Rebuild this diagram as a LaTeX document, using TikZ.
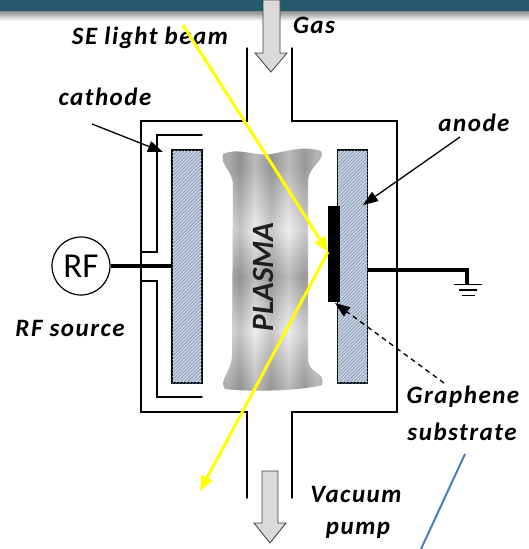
\documentclass[tikz,border=0pt]{standalone}
\usepackage{fontspec}
\setmainfont{Carlito}
\newfontfamily\labelfont[LetterSpace=6]{Carlito}
\usetikzlibrary{arrows.meta,patterns.meta}

\definecolor{barteal}{HTML}{245A6A}
\definecolor{hatchbase}{HTML}{CAD3E0}
\definecolor{hatchline}{HTML}{7890B2}
\definecolor{flowgray}{HTML}{D9D9D9}
\definecolor{beamyellow}{HTML}{FFFF00}
\definecolor{linkblue}{HTML}{4A7EBB}

% banded gray body of the plasma (colour varies left to right)
\pgfdeclarehorizontalshading{plasmabands}{100bp}{%
  color(0bp)=(black!18); color(25bp)=(black!18); color(30bp)=(black!22);
  color(35bp)=(black!38); color(42bp)=(black!11); color(49.5bp)=(black!36);
  color(57.5bp)=(black!11); color(65bp)=(black!34); color(71bp)=(black!14);
  color(75bp)=(black!26); color(100bp)=(black!26)}
% lighter and darker zones along the height
\pgfdeclareverticalshading{plasmaglow}{100bp}{%
  color(0bp)=(black!50); color(26bp)=(black!50); color(37.5bp)=(white);
  color(48.5bp)=(black!50); color(58bp)=(white); color(70.5bp)=(black!50);
  color(100bp)=(black!50)}

\begin{document}
\begin{tikzpicture}[x=1pt,y=-1pt,
  wall/.style={line width=1.4pt,line cap=round},
  feed/.style={line width=3.2pt},
  label/.style={font=\labelfont\fontsize{25}{29}\selectfont\bfseries\itshape,inner sep=0pt},
  plate/.style={draw,line width=1.3pt,fill=hatchbase,
    postaction={pattern={Lines[angle=45,distance=2.4pt,line width=0.55pt]},pattern color=hatchline}},
  pointer/.style={line width=1.3pt,-{Triangle[length=15pt,width=11pt]}},
  beam/.style={beamyellow,line width=3pt,-{Triangle[length=15pt,width=12pt]}},
  flow/.style={fill=flowgray,draw=black!75,line width=0.8pt,line join=miter},
]
\useasboundingbox (0,0) rectangle (529,549);

% title band with its soft shadow
\fill[barteal] (0,0) rectangle (529,11);
\shade[top color=black!45,bottom color=white] (0,11) rectangle (529,21);

% gas inlet arrow
\draw[flow] (263,0) -- (280,0) -- (280,53) -- (287,53) -- (271,72) -- (255,53) -- (263,53) -- cycle;
% vacuum outlet arrow
\draw[flow] (262,471) -- (278,471) -- (278,523) -- (286,523) -- (270,543) -- (254,523) -- (262,523) -- cycle;

% chamber walls
\draw[wall] (247,48) -- (247,121) -- (141,121) -- (141,412) -- (247,412) -- (247,498);
\draw[wall] (292,498) -- (292,412) -- (397,412) -- (397,121) -- (292,121) -- (292,48);

% cathode feed shielding
\draw[wall] (202,135) -- (157,135) -- (157,252) -- (141,252);
\draw[wall] (141,281) -- (157,281) -- (157,397) -- (202,397);

% plasma
\path[shading=plasmabands]
  (223,154) .. controls (240,147) and (255,157) .. (272,154)
  .. controls (290,150) and (306,146) .. (321,151)
  .. controls (326,160) and (309,166) .. (308,180) -- (308,360)
  .. controls (309,374) and (326,372) .. (322,385)
  .. controls (300,391) and (250,392) .. (225,389)
  .. controls (218,380) and (232,372) .. (232,355) -- (233,186)
  .. controls (233,170) and (220,166) .. (223,154) -- cycle;
\path[shading=plasmaglow,opacity=0.4]
  (223,154) .. controls (240,147) and (255,157) .. (272,154)
  .. controls (290,150) and (306,146) .. (321,151)
  .. controls (326,160) and (309,166) .. (308,180) -- (308,360)
  .. controls (309,374) and (326,372) .. (322,385)
  .. controls (300,391) and (250,392) .. (225,389)
  .. controls (218,380) and (232,372) .. (232,355) -- (233,186)
  .. controls (233,170) and (220,166) .. (223,154) -- cycle;
\node[font=\fontsize{31}{34}\selectfont\bfseries\itshape,text=black!88,rotate=90] (plasma) at (263,277) {PLASMA};

% electrodes and substrate
\node[plate,minimum width=30pt,minimum height=233pt,inner sep=0pt] (cath) at (187,266.5) {};
\node[plate,minimum width=30pt,minimum height=233pt,inner sep=0pt] (anod) at (352.5,266.5) {};
\node[fill=black,minimum width=12pt,minimum height=96pt,inner sep=0pt] (sub) at (333.5,254) {};

% RF source and its feed line
\node[draw,circle,line width=1.2pt,minimum size=58pt,inner sep=0pt,
      font=\fontsize{35}{36}\selectfont] (rf) at (81,266) {RF};
\draw[feed] (rf.east) -- (cath.west |- rf.east);

% anode to ground
\coordinate (afeed) at (368,270);
\coordinate (gtop) at (467,284.5);
\draw[feed] (afeed) -| (gtop);
\draw[line width=1.7pt] (454,284.5) -- (482,284.5);
\draw[line width=1.7pt] (459,290) -- (477,290);
\draw[line width=1.7pt] (462,295.5) -- (475,295.5);

% labels
\node[label] (lbeam) at (150,38) {SE light beam};
\node[label] (lgas) at (314,25) {Gas};
\node[label] (lcath) at (105,97) {cathode};
\node[label] (lanod) at (474,123) {anode};
\node[label] (lrf) at (70,328) {RF source};
\node[label] (lgra) at (463,397) {Graphene};
\node[label] (lsubs) at (462,432) {substrate};
\node[label] (lvac) at (356,494) {Vacuum};
\node[label] (lpump) at (358,530) {pump};

% label pointers
\coordinate (cfrom) at (92,124);
\coordinate (cto) at (163,152);
\draw[pointer] (cfrom) -- (cto);
\coordinate (afrom) at (460,137);
\coordinate (ato) at (363,205);
\draw[pointer] (afrom) -- (ato);
\coordinate (gfrom) at (444,383);
\coordinate (gto) at (335,303);
\draw[pointer,dash pattern=on 5pt off 4pt] (gfrom) -- (gto);

% blue stroke under the substrate label
\coordinate (bl1) at (465,454);
\coordinate (bl2) at (421,549);
\draw[linkblue,line width=2pt] (bl1) -- (bl2);

% ellipsometry light beam, incident and reflected
\coordinate (bstart) at (183,25);
\coordinate (bhit) at (328,252);
\coordinate (bout) at (200,491);
\draw[beam] (bstart) -- (bhit);
\draw[beam] (bhit) -- (bout);
\end{tikzpicture}
\end{document}
